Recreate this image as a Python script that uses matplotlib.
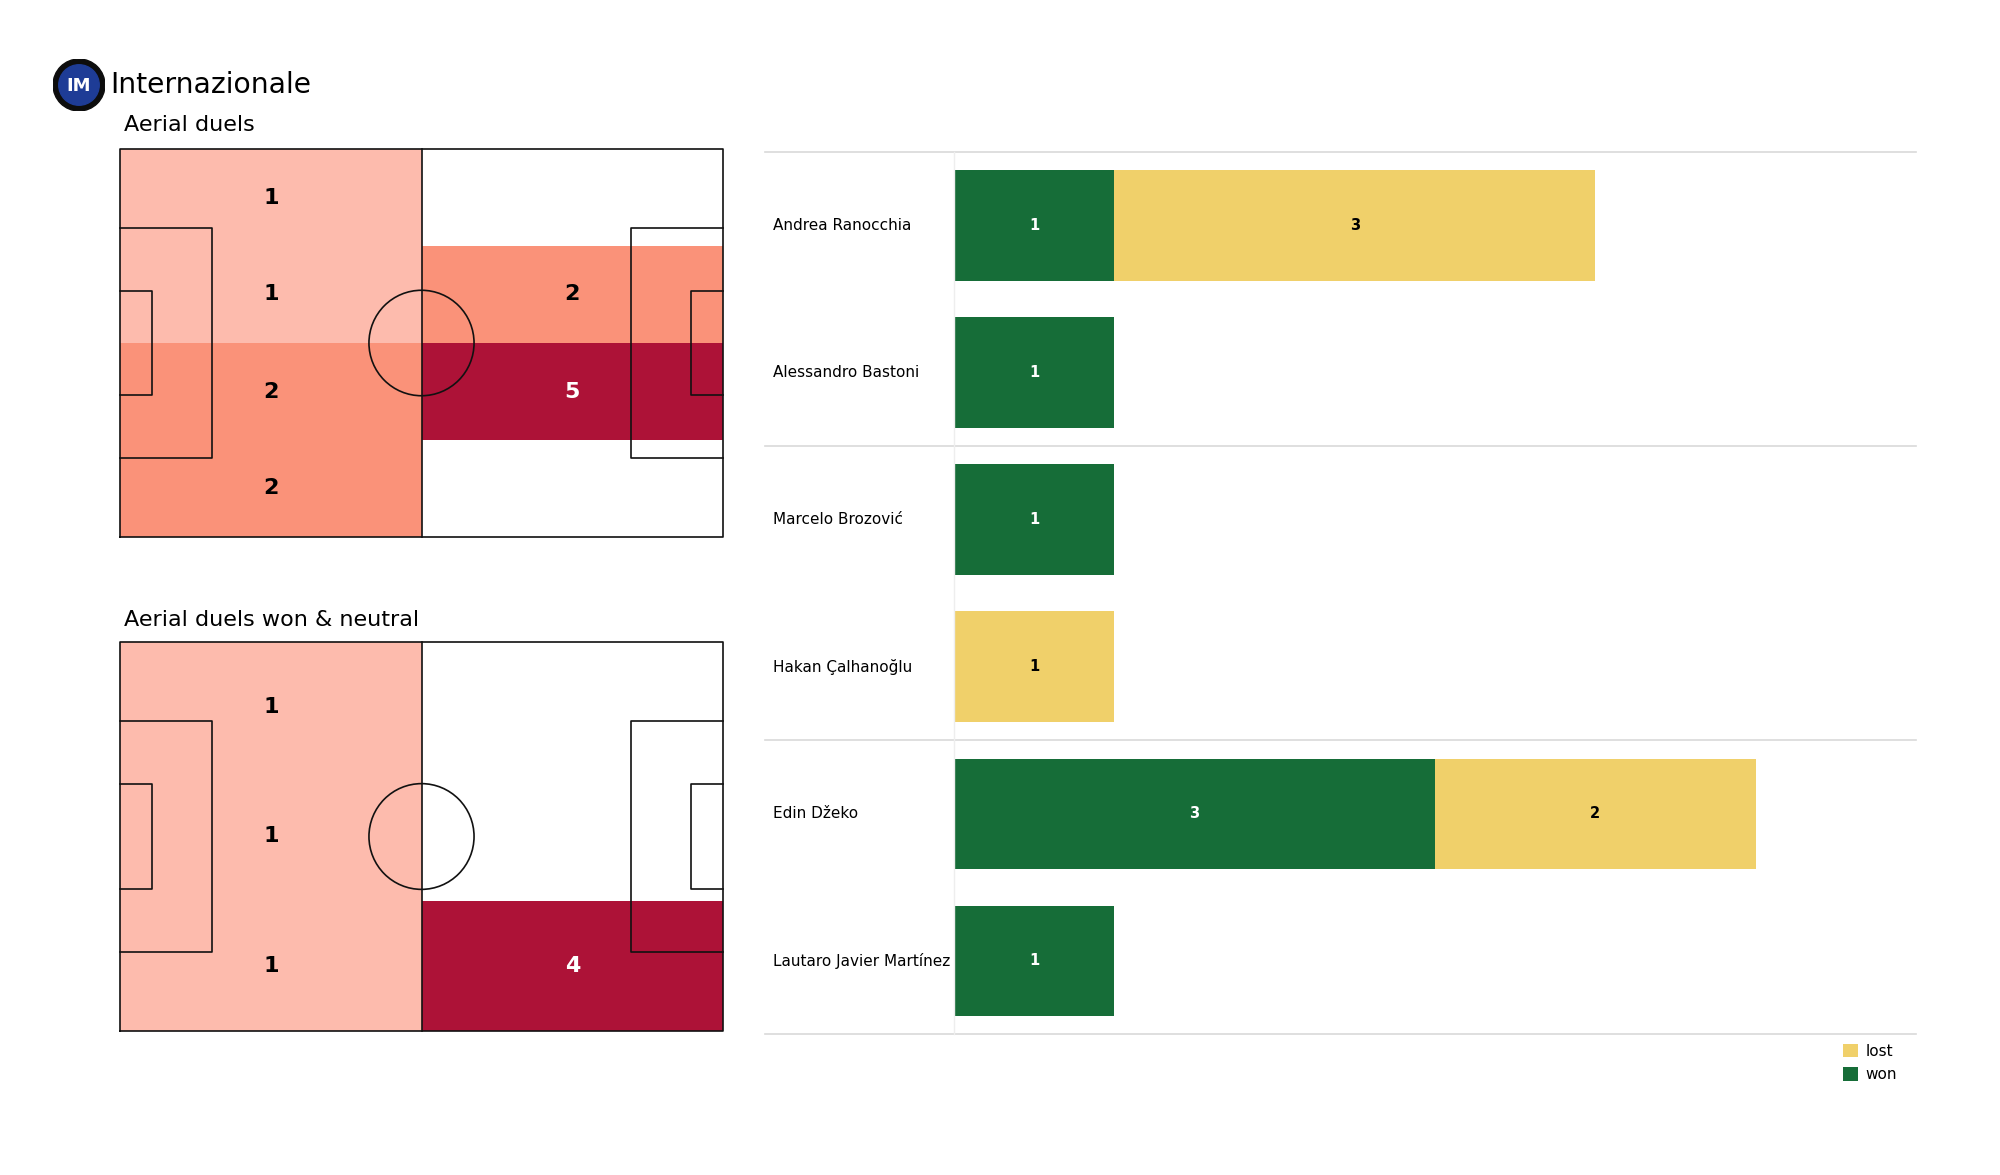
import matplotlib
matplotlib.use("Agg")
import matplotlib.pyplot as plt
from matplotlib.patches import Rectangle, Ellipse, Circle
import numpy as np

# zone counts (rows listed from top of pitch to bottom), columns: own half, opp half
duels_grid = [[1, 0],
              [1, 2],
              [2, 5],
              [2, 0]]
won_grid = [[1, 0],
            [1, 0],
            [1, 4]]

players = ["Andrea Ranocchia", "Alessandro Bastoni", "Marcelo Brozović",
           "Hakan Çalhanoğlu", "Edin Džeko", "Lautaro Javier Martínez"]
won = [1, 1, 1, 0, 3, 1]
lost = [3, 0, 0, 1, 2, 0]

team = "Internazionale"

GREEN = "#166d38"
YELLOW = "#f0d06a"
# colour per count share (count / max)
def zone_color(v, vmax):
    if v == 0:
        return None
    f = v / vmax
    if f <= 0.25:
        return "#fdbbad"
    if f <= 0.4:
        return "#fa9279"
    return "#ad1237"


def draw_pitch(ax, grid):
    L, W = 105, 68
    ax.set_xlim(0, L)
    ax.set_ylim(0, W)
    ax.axis("off")
    nrows = len(grid)
    ncols = len(grid[0])
    vmax = max(max(r) for r in grid)
    dx = L / ncols
    dy = W / nrows
    for i, row in enumerate(grid):
        for j, v in enumerate(row):
            c = zone_color(v, vmax)
            y0 = W - (i + 1) * dy
            if c is not None:
                ax.add_patch(Rectangle((j * dx, y0), dx, dy, facecolor=c,
                                       edgecolor="none", zorder=1))
                ax.text(j * dx + dx / 2, y0 + dy / 2, str(v), ha="center",
                        va="center", fontsize=16, fontweight="bold",
                        color="white" if v == vmax else "black", zorder=3)
    lw = 1.2
    kw = dict(color="#111111", lw=lw, zorder=2, clip_on=False)
    ax.plot([0, L, L, 0, 0], [0, 0, W, W, 0], **kw)
    ax.plot([L / 2, L / 2], [0, W], **kw)
    ax.add_patch(Ellipse((L / 2, W / 2), 18.3, 18.3 * 1.01, fill=False,
                         edgecolor="#111111", lw=lw, zorder=2))
    pb_w, pb_d = 40.32, 16.0
    sb_w, sb_d = 18.32, 5.5
    for x0, s in [(0, 1), (L, -1)]:
        ax.plot([x0, x0 + s * pb_d, x0 + s * pb_d, x0],
                [W / 2 - pb_w / 2, W / 2 - pb_w / 2, W / 2 + pb_w / 2, W / 2 + pb_w / 2], **kw)
        ax.plot([x0, x0 + s * sb_d, x0 + s * sb_d, x0],
                [W / 2 - sb_w / 2, W / 2 - sb_w / 2, W / 2 + sb_w / 2, W / 2 + sb_w / 2], **kw)


fig = plt.figure(figsize=(20, 11.75), dpi=100)

# logo
lax = fig.add_axes([79 / 2000 - 0.013, 1 - 85 / 1175 - 0.0221, 0.026, 0.0442])
lax.set_xlim(-1, 1)
lax.set_ylim(-1, 1)
lax.set_aspect("equal")
lax.axis("off")
lax.add_patch(Circle((0, 0), 1.0, color="#0d0d0d"))
lax.add_patch(Circle((0, 0), 0.78, color="#1e3c96"))
lax.text(0, -0.02, "IM", ha="center", va="center", color="white",
         fontsize=13, fontweight="bold")

fig.text(0.055, 1 - 85 / 1175, team, fontsize=20.3, va="center", ha="left")
fig.text(0.062, 1 - 125 / 1175, "Aerial duels", fontsize=16, va="center", ha="left")
fig.text(0.062, 1 - 620 / 1175, "Aerial duels won & neutral", fontsize=16,
         va="center", ha="left")

ax1 = fig.add_axes([0.06, 1 - 537 / 1175, 0.3015, 388 / 1175])
draw_pitch(ax1, duels_grid)
ax2 = fig.add_axes([0.06, 1 - 1031 / 1175, 0.3015, 389 / 1175])
draw_pitch(ax2, won_grid)

# bar chart
bx = fig.add_axes([0.477, 0.1197, 0.481, 0.7511])
y = np.arange(len(players))
bx.barh(y, won, height=0.75, color=GREEN, label="won")
bx.barh(y, lost, left=won, height=0.75, color=YELLOW, label="lost")
for yi, w, l in zip(y, won, lost):
    if w > 0:
        bx.text(w / 2, yi, str(w), ha="center", va="center", color="white",
                fontsize=10.5, fontweight="bold")
    if l > 0:
        bx.text(w + l / 2, yi, str(l), ha="center", va="center", color="black",
                fontsize=10.5, fontweight="bold")
    bx.text(-0.188, yi, players[yi], transform=bx.get_yaxis_transform(),
            ha="left", va="center", fontsize=11)
bx.set_xlim(0, 6)
bx.set_ylim(len(players) - 0.5, -0.5)
bx.set_xticks([])
bx.set_yticks([])
for s in ["top", "right", "bottom"]:
    bx.spines[s].set_visible(False)
bx.spines["left"].set_color("#eeeeee")
bx.spines["left"].set_linewidth(1)
for sep in [-0.5, 1.5, 3.5, 5.5]:
    bx.plot([-0.196, 1], [sep, sep], transform=bx.get_yaxis_transform(),
            color="#d9d9d9", lw=1.2, clip_on=False)

handles, labels = bx.get_legend_handles_labels()
bx.legend(handles[::-1], labels[::-1], loc="upper right", bbox_to_anchor=(0.99, 0.0),
          frameon=False, fontsize=11, handlelength=1.0, handleheight=1.0,
          handletextpad=0.5, labelspacing=0.55, borderaxespad=0.2)

fig.savefig("out.png", dpi=100, facecolor="white")
